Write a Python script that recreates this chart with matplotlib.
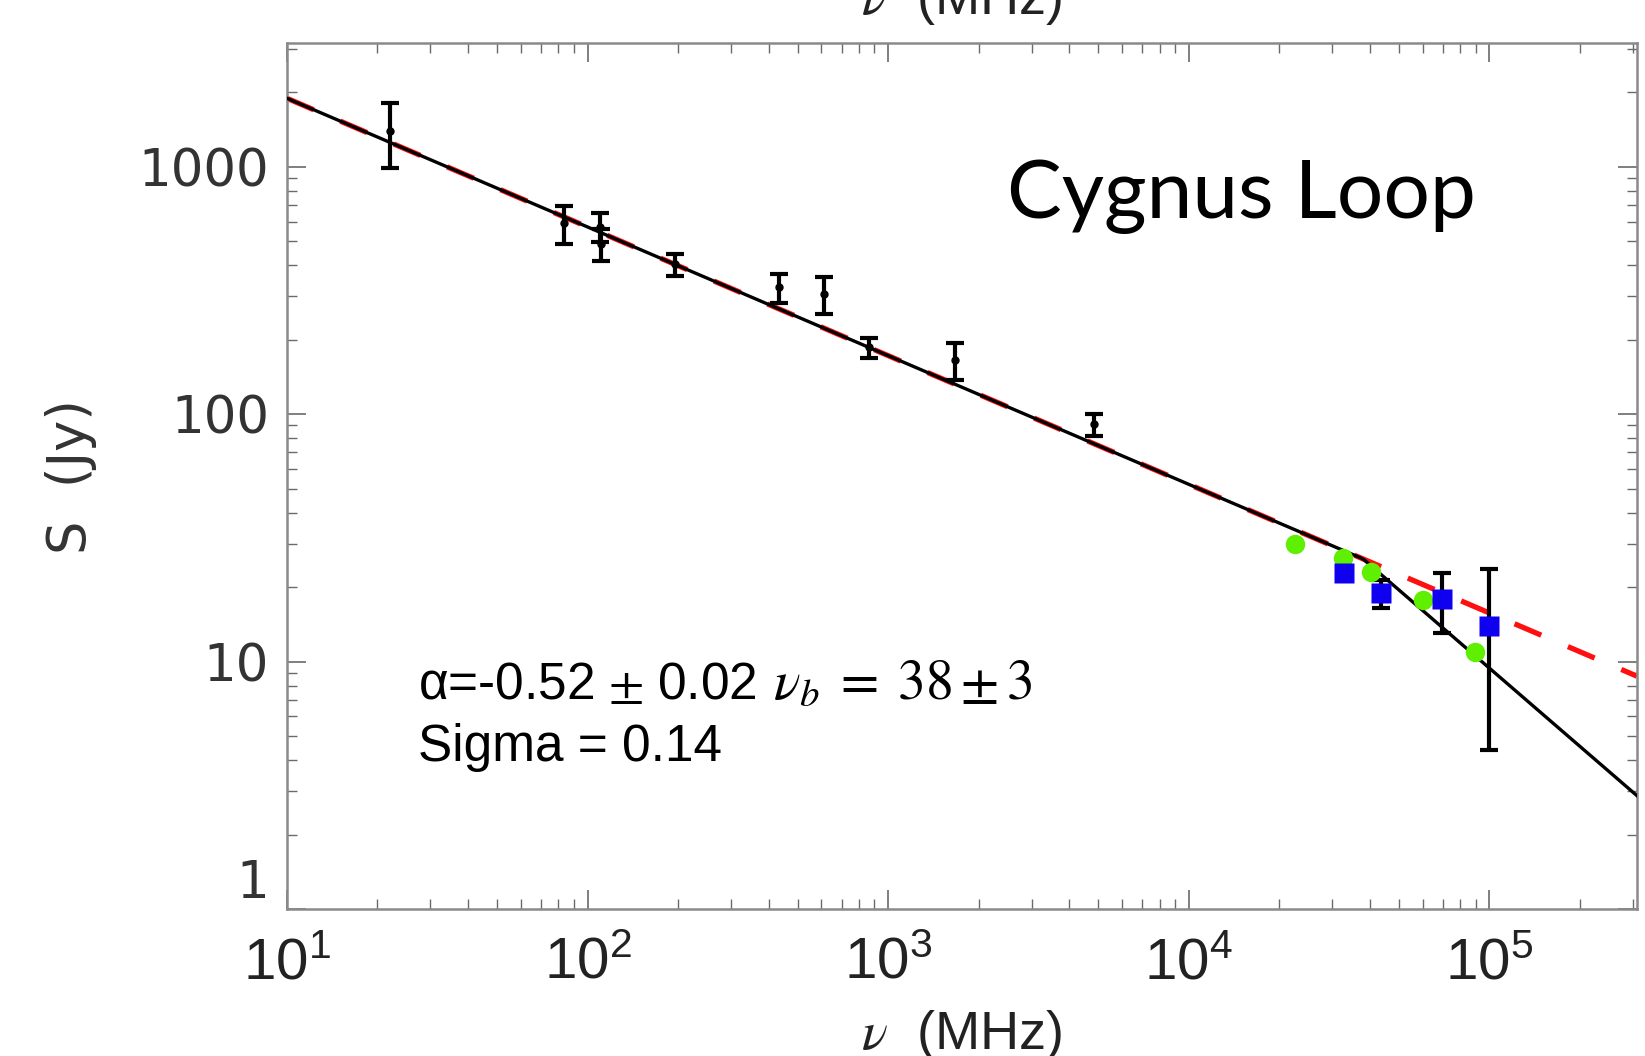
import numpy as np
import matplotlib
matplotlib.use("Agg")
import matplotlib.pyplot as plt
from matplotlib import font_manager as fm
from matplotlib.ticker import NullFormatter, LogLocator

# ---------------- data ----------------
# black points with error bars: frequency (MHz), flux (Jy), 1-sigma error (Jy)
freq_err = [22, 83.5, 110, 111, 195, 433, 610, 863, 1666, 4840, 43700, 69800, 99800]
flux_err = [1400, 592, 572, 489, 403, 325, 307, 186, 166, 91, 18.9, 17.9, 14.0]
err_err = [410, 105, 78, 72, 40, 43, 52, 18, 28, 9.5, 2.5, 4.9, 9.6]

# green circles (WMAP-like bands)
freq_green = [22.5e3, 32.7e3, 40.3e3, 60.0e3, 89.4e3]
flux_green = [29.9, 26.2, 23.1, 17.7, 10.96]

# blue squares (Planck-like bands)
freq_blue = [32.9e3, 43.7e3, 69.8e3, 99.8e3]
flux_blue = [22.7, 19.0, 17.9, 13.9]

# fit parameters
S_10MHz = 1890.0   # Jy at 10 MHz
alpha = -0.52
nu_break = 38e3    # MHz
alpha_high = -1.05

x_ticks = [1e1, 1e2, 1e3, 1e4, 1e5]
x_ticklabels = [r"$\mathregular{10^{1}}$", r"$\mathregular{10^{2}}$", r"$\mathregular{10^{3}}$",
                r"$\mathregular{10^{4}}$", r"$\mathregular{10^{5}}$"]
y_ticks = [1, 10, 100, 1000]
y_ticklabels = ["1", "10", "100", "1000"]
x_range = (10, 3.1e5)
y_range = (1, 10 ** 3.5)

# ---------------- fonts ----------------
names = {f.name for f in fm.fontManager.ttflist}
narrow = "Liberation Sans Narrow" if "Liberation Sans Narrow" in names else "Liberation Sans"
plt.rcParams["mathtext.fontset"] = "stix"
plt.rcParams["font.family"] = ["Liberation Sans", "DejaVu Sans"]

W, H = 1645, 1056
fig = plt.figure(figsize=(W / 100, H / 100), dpi=100)
ax = fig.add_axes([287 / W, 1 - 909 / H, (1637 - 287) / W, (909 - 43) / H])

ax.set_xscale("log")
ax.set_yscale("log")
ax.set_xlim(*x_range)
ax.set_ylim(*y_range)

# fit lines
nu = np.logspace(np.log10(x_range[0]), np.log10(x_range[1]), 500)
single = S_10MHz * (nu / 10.0) ** alpha
S_b = S_10MHz * (nu_break / 10.0) ** alpha
broken = np.where(nu < nu_break, single, S_b * (nu / nu_break) ** alpha_high)
ax.plot(nu, single, color="#ff1010", lw=3.8, ls=(0, (5.5, 5.5)), zorder=2)
ax.plot(nu, broken, color="black", lw=2.4, zorder=3)

# data
ax.errorbar(freq_err, flux_err, yerr=err_err, fmt="o", ms=5, color="black",
            ecolor="black", elinewidth=3.0, capsize=6.5, capthick=3.0, zorder=4)
ax.plot(freq_green, flux_green, "o", ms=14, color="#5ef000", mec="none", zorder=5)
ax.plot(freq_blue, flux_blue, "s", ms=14, color="#1000f0", mec="none", zorder=6)

# axes style
for sp in ax.spines.values():
    sp.set_color("#8a8a8a")
    sp.set_linewidth(1.8)
ax.tick_params(which="both", direction="in", top=True, right=True, color="#6a6a6a")
ax.tick_params(which="major", length=14, width=1.2)
ax.tick_params(which="minor", length=7, width=1.0)
ax.xaxis.set_minor_locator(LogLocator(base=10, subs=np.arange(2, 10)))
ax.yaxis.set_minor_locator(LogLocator(base=10, subs=np.arange(2, 10)))
ax.xaxis.set_minor_formatter(NullFormatter())
ax.yaxis.set_minor_formatter(NullFormatter())

ax.set_xticks(x_ticks)
ax.set_xticklabels(x_ticklabels, fontfamily=narrow, fontsize=42, color="#222222")
ax.set_yticks(y_ticks)
ax.set_yticklabels(y_ticklabels, fontfamily="DejaVu Sans", fontsize=37, color="#333333")
ax.tick_params(axis="x", which="major", pad=20)
ax.tick_params(axis="y", which="major", pad=13)
for lbl in ax.get_yticklabels():
    if lbl.get_text() == "1":
        lbl.set_verticalalignment("bottom")

# axis labels (drawn as figure text to match placement)
xlabel = r"$\mathit{\nu}$  (MHz)"
fig.text(962 / W, 1 - 1049 / H, xlabel, fontsize=39, color="#222222",
         ha="center", va="baseline")
fig.text(962 / W, 1 - 14 / H, xlabel, fontsize=39, color="#222222",
         ha="center", va="baseline")
fig.text(71 / W, 1 - 477 / H, "S  (Jy)", rotation=90, fontfamily="DejaVu Sans",
         fontsize=38, color="#333333", ha="center", va="center")

# annotations
fig.text(1007 / W, 1 - 218 / H, "Cygnus Loop", fontfamily=["Lato", "DejaVu Sans"],
         fontsize=59, color="black", va="baseline")
fig.text(418 / W, 1 - 699 / H, r"α=-0.52$\,\pm\,$0.02",
         fontsize=37, color="black", va="baseline")
fig.text(773 / W, 1 - 699 / H, r"$\nu_b\;=\;38\pm3$",
         fontsize=40, color="black", va="baseline")
fig.text(418 / W, 1 - 761 / H, "Sigma = 0.14", fontsize=37, color="black", va="baseline")

fig.savefig("out.png", dpi=100)
